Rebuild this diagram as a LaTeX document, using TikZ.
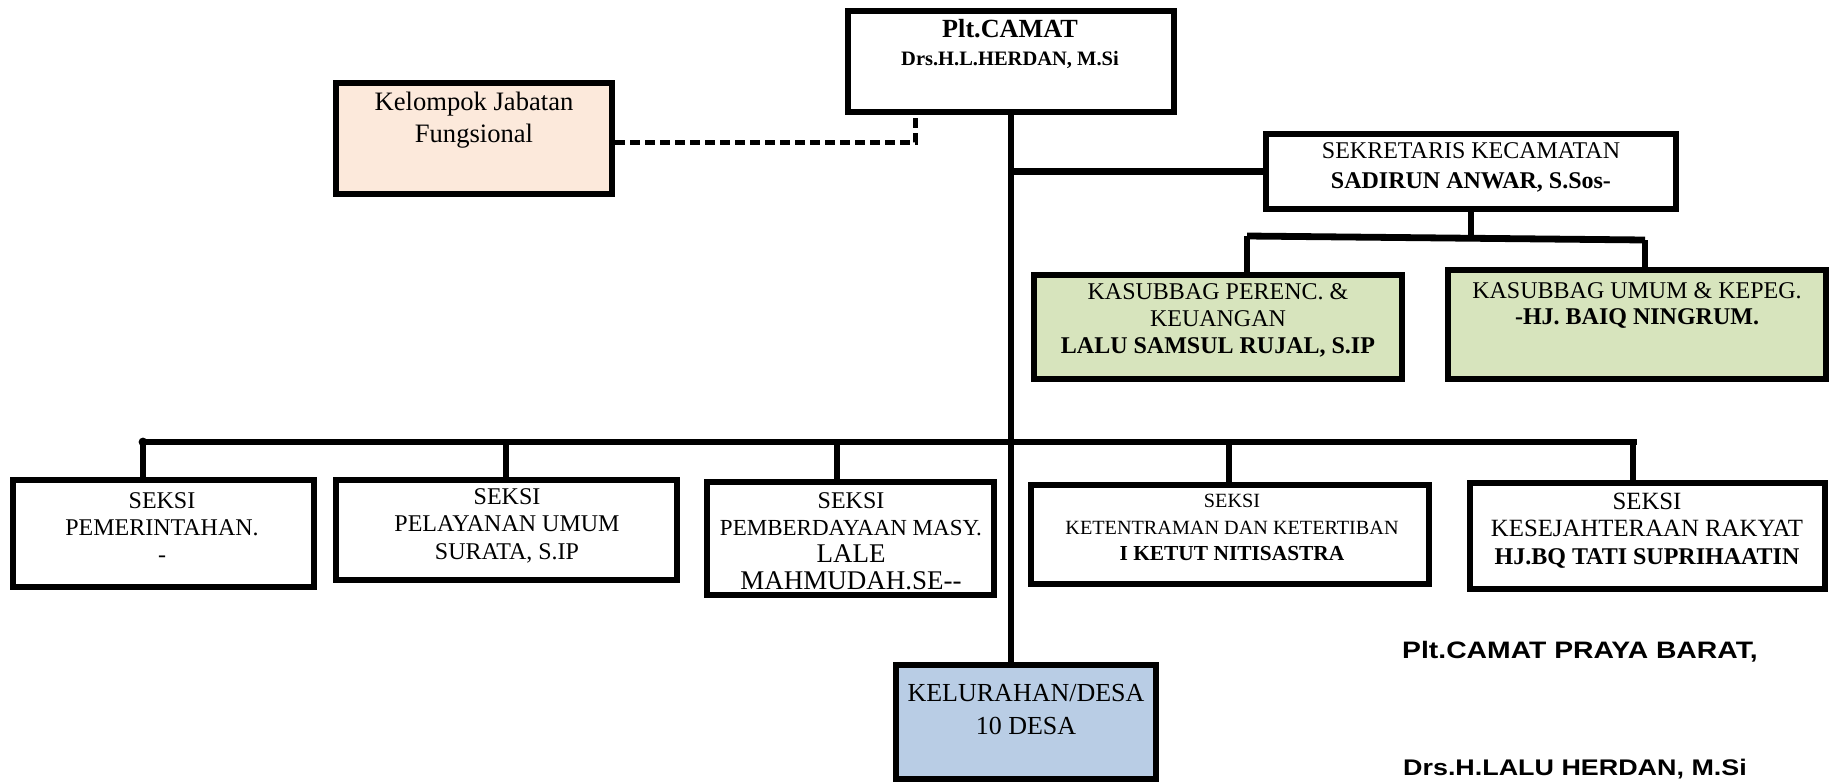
\documentclass[tikz,border=0pt]{standalone}
\usepackage{fontspec}
\setmainfont{Liberation Serif}
\newfontfamily\signfont{Liberation Sans}[FakeStretch=1.19]
\definecolor{jabfill}{HTML}{FCE9DB}
\definecolor{subfill}{HTML}{D7E4BD}
\definecolor{desafill}{HTML}{B9CDE5}
\newcommand{\fsz}[2]{\fontsize{#1}{#2}\selectfont}
\begin{document}
\begin{tikzpicture}[x=0.5pt,y=-0.5pt]
\tikzstyle{every node}+=[inner sep=0pt]
\tikzstyle{box}=[draw=black, line width=3pt, fill=white]
\tikzstyle{txt}=[align=center, font=\fsz{12}{13.5}]
\tikzstyle{link}=[black, line width=3.4pt]
\tikzstyle{drop}=[black, line width=3pt]
\tikzstyle{dashline}=[black, line width=2.5pt, dash pattern=on 5pt off 2.5pt]
\useasboundingbox (0,0) rectangle (1831,782);
\coordinate (fn) at (915,0);
\coordinate (kb1) at (1247,236);
\coordinate (kb2) at (1645,240);
\coordinate (barL) at (143,442);
\coordinate (barR) at (1637,442);
\node[box, minimum width=163pt, minimum height=50.5pt] (camat) at (1011,61.5) {};
\node[box, fill=jabfill, minimum width=138pt, minimum height=55.5pt] (jab) at (474,138.5) {};
\node[box, minimum width=205pt, minimum height=37.5pt] (sek) at (1471,171.5) {};
\node[box, fill=subfill, minimum width=184pt, minimum height=52pt] (kas1) at (1218,327) {};
\node[box, fill=subfill, minimum width=189pt, minimum height=54.5pt] (kas2) at (1637,324.5) {};
\node[box, minimum width=150.5pt, minimum height=53.5pt] (s1) at (163.5,533.5) {};
\node[box, minimum width=170.5pt, minimum height=50pt] (s2) at (506.5,530) {};
\node[box, minimum width=143.5pt, minimum height=56.5pt] (s3) at (850.5,538.5) {};
\node[box, minimum width=199pt, minimum height=49.5pt] (s4) at (1230,534.5) {};
\node[box, minimum width=177.5pt, minimum height=53pt] (s5) at (1647.5,536) {};
\node[box, fill=desafill, minimum width=130pt, minimum height=57pt] (kel) at (1026,722) {};
\draw[dashline] ([yshift=-2pt]jab.east) -| (camat.south -| fn);
\draw[link] (camat.south) -- (camat.south |- kel.north);
\draw[link] (camat.south |- sek.west) -- (sek.west);
\draw[drop] (sek.south) -- (sek.south |- kb1);
\draw[link] (kb1) -- (kb2);
\draw[drop] (kb1) -- (kb1 |- kas1.north);
\draw[drop] (kb2) -- (kb2 |- kas2.north);
\draw[link] (barL) -- (barR);
\fill (barL) circle (2.2pt);
\foreach \x/\n in {143/s1,506/s2,837/s3,1229/s4,1633/s5}
  \draw[drop] (\x,442) -- (\x,442 |- \n.north);
\node[txt, font=\fsz{12}{14}] (camattext) at (1010,44) {{\fsz{13.1}{14}\bfseries Plt.CAMAT}\\{\fsz{10.25}{14}\bfseries Drs.H.L.HERDAN, M.Si}};
\node[txt, font=\fsz{13.3}{16}] (jabtext) at (474,120) {Kelompok Jabatan\\Fungsional};
\node[txt, font=\fsz{12}{15}] (sektext) at (1471,167) {SEKRETARIS KECAMATAN\\{\bfseries SADIRUN ANWAR, S.Sos-}};
\node[txt] (kas1text) at (1218,320) {KASUBBAG PERENC. \&\\KEUANGAN\\{\bfseries LALU SAMSUL RUJAL, S.IP}};
\node[txt, font=\fsz{12}{13}] (kas2text) at (1637,305) {KASUBBAG UMUM \& KEPEG.\\{\bfseries -HJ. BAIQ NINGRUM.}};
\node[txt] (s1text) at (162,528) {SEKSI\\PEMERINTAHAN.\\-};
\node[txt, font=\fsz{12}{13.75}] (s2text) at (507,525.5) {SEKSI\\PELAYANAN UMUM\\SURATA, S.IP};
\node[txt] (s3text) at (851,541) {SEKSI\\{\fsz{11.5}{13.5}PEMBERDAYAAN MASY.}\\{\fsz{13.5}{13.5}LALE}\\{\fsz{13.5}{13.5}MAHMUDAH.SE-{}-}};
\node[txt, font=\fsz{10.1}{13.25}] (s4text) at (1232,527.5) {SEKSI\\KETENTRAMAN DAN KETERTIBAN\\{\fsz{10.7}{13.25}\bfseries I KETUT NITISASTRA}};
\node[txt, font=\fsz{12.4}{13.75}] (s5text) at (1647,530.5) {SEKSI\\KESEJAHTERAAN RAKYAT\\{\fsz{12}{13.75}\bfseries HJ.BQ TATI SUPRIHAATIN}};
\node[txt, font=\fsz{13}{16.5}] (keltext) at (1026,709.5) {KELURAHAN/DESA\\10 DESA};
\node (sign1) at (1580,652) {\signfont\bfseries\fsz{11.9}{14}Plt.CAMAT PRAYA BARAT,};
\node (sign2) at (1575,769) {\signfont\bfseries\fsz{11.3}{14}Drs.H.LALU HERDAN, M.Si};
\end{tikzpicture}
\end{document}
